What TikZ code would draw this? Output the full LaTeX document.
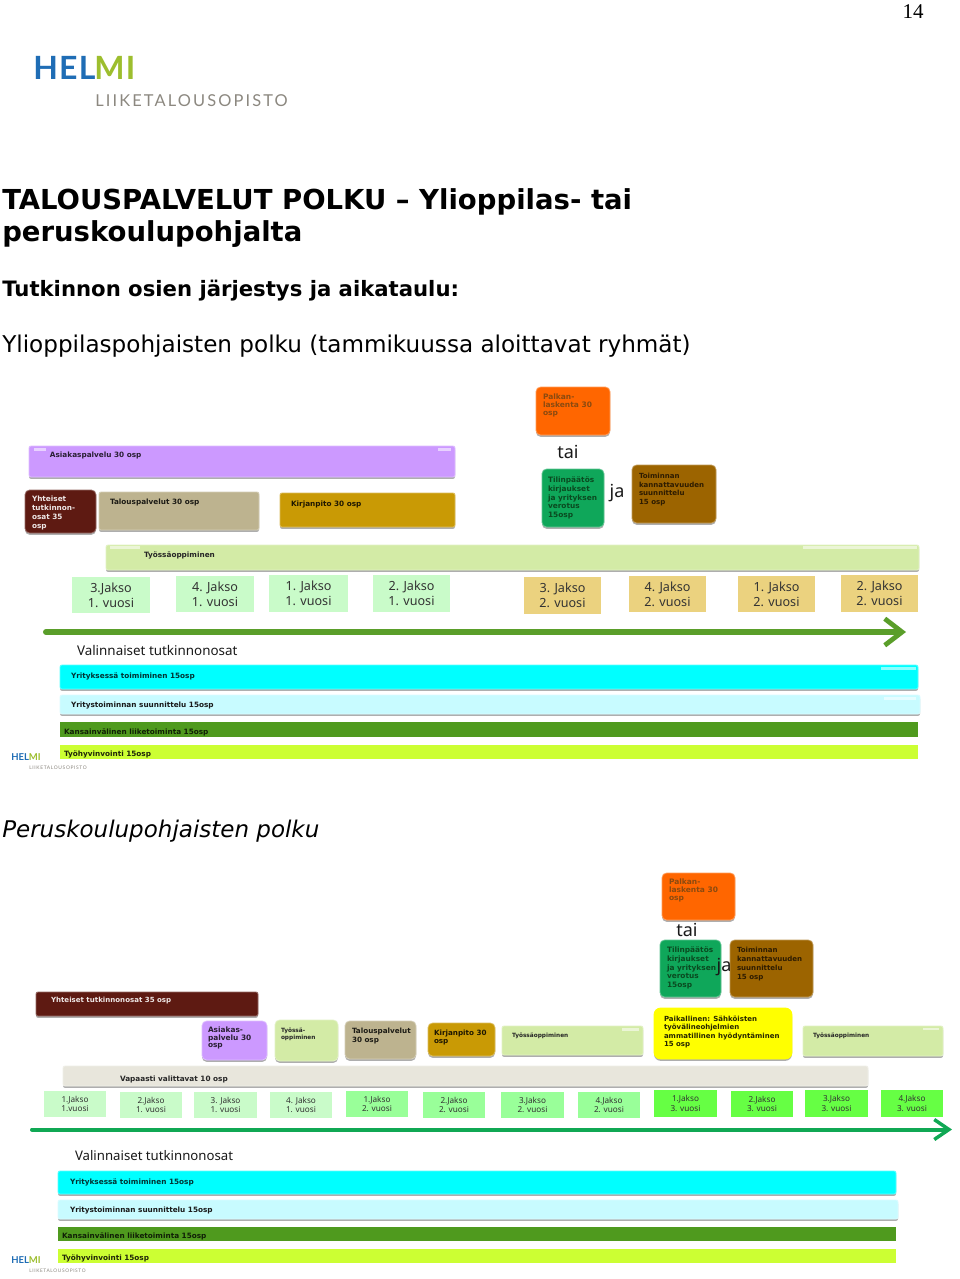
\documentclass[tikz,border=0pt]{standalone}
\usepackage{fontspec}
\setmainfont{DejaVu Sans}
\newfontfamily\seriffam{Liberation Serif}
\newfontfamily\tahomafam{Noto Sans}
\newfontfamily\logofam{Lato}
\usetikzlibrary{shadows,arrows.meta}
\newcommand\fpx[2]{\fontsize{\fpeval{#1*0.75}pt}{\fpeval{#2*0.75}pt}\selectfont}
\definecolor{cDred}{HTML}{5E1A12}
\definecolor{cLil}{HTML}{CC99FF}
\definecolor{cTan}{HTML}{BDB38F}
\definecolor{cGold}{HTML}{C99A05}
\definecolor{cTyo}{HTML}{D3EBA6}
\definecolor{cJa}{HTML}{C9FBC9}
\definecolor{cJb}{HTML}{EBD27F}
\definecolor{cJc}{HTML}{99FF99}
\definecolor{cJd}{HTML}{66FF44}
\definecolor{cArA}{HTML}{5A9E2A}
\definecolor{cArB}{HTML}{10A854}
\definecolor{cCy}{HTML}{00FFFF}
\definecolor{cLc}{HTML}{C8FBFF}
\definecolor{cKv}{HTML}{4F9A1E}
\definecolor{cTh}{HTML}{CCFF33}
\definecolor{cOr}{HTML}{FF6600}
\definecolor{cGr}{HTML}{0FA75A}
\definecolor{cBr}{HTML}{9C6400}
\definecolor{cVa}{HTML}{E8E6DC}
\definecolor{cYel}{RGB}{255,255,0}
\definecolor{cBlue}{HTML}{1F6DB5}
\definecolor{cLime}{HTML}{9DBE2E}
\definecolor{cGrey}{HTML}{8C8880}
\definecolor{cOrT}{HTML}{8A4A10}
\definecolor{cGrT}{HTML}{0A4A20}
\definecolor{cBrT}{HTML}{2E1C00}
\tikzset{
  x=0.75pt,y=-0.75pt,
  shadowed/.style={drop shadow={shadow xshift=0pt,shadow yshift=-1.4pt,opacity=.45,fill=black!70}},
  roundbox/.style={rectangle,rounded corners=3.5pt,inner sep=0pt,outer sep=0pt,shadowed,line width=.6pt},
  barbox/.style={rectangle,rounded corners=1.5pt,inner sep=0pt,outer sep=0pt,shadowed,line width=.6pt},
  flatbox/.style={rectangle,inner sep=0pt,outer sep=0pt},
  lbl/.style={anchor=west,inner sep=0pt,outer sep=0pt,align=left},
  jaksotxt/.style={inner sep=0pt,outer sep=0pt,align=center,text=black!80},
  wordtxt/.style={inner sep=0pt,outer sep=0pt,text=black!90,font=\tahomafam},
  gloss/.style={white,opacity=.55},
  pathA/.style={line width=4.5pt,cArA,line cap=round,-{Straight Barb[length=13pt,width=20pt,line width=3.6pt]}},
  pathB/.style={line width=3pt,cArB,line cap=round,-{Straight Barb[length=11pt,width=15pt,line width=2.6pt]}},
}
% box: style, name, x0,y0,x1,y1, colour
\newcommand\bx[7]{\node[#1,fill=#7,draw=#7!65!white,minimum width={(#5-#3)*0.75pt},minimum height={(#6-#4)*0.75pt}] (#2) at ({(#3+#5)/2},{(#4+#6)/2}) {};}
\newcommand\fb[6]{\node[flatbox,fill=#6,minimum width={(#4-#2)*0.75pt},minimum height={(#5-#3)*0.75pt}] (#1) at ({(#2+#4)/2},{(#3+#5)/2}) {};}
% jakso: name x0 y0 x1 y1 colour size text
\newcommand\jk[8]{\fb{#1}{#2}{#3}{#4}{#5}{#6}\node[jaksotxt,font={\tahomafam\fpx{#7}{\fpeval{#7*1.2}}}] (#1t) at (#1) {#8};}
% label: name x y size leading colour text
\newcommand\tx[7]{\node[lbl,text=#6,font={\bfseries\fpx{#4}{#5}}] (#1) at (#2,#3) {#7};}
\newcommand\gl[3]{\fill[gloss] (#1,#3) rectangle (#2,{#3+2.5});}
\begin{document}
\begin{tikzpicture}
\useasboundingbox (0,0) rectangle (960,1279);
\fill[white] (0,0) rectangle (960,1279);
% page number
\node[inner sep=0pt,font=\seriffam] (pg) at (913,11.5) {\fpx{21}{24}14};
% top logo
\node[anchor=west,inner sep=0pt,text=cBlue,font=\logofam\bfseries] (lgA) at (33,68) {\fpx{32}{32}\addfontfeature{LetterSpace=4}HEL};
\node[anchor=west,inner sep=0pt,text=cLime,font=\logofam\bfseries] (lgB) at (94,68) {\fpx{32}{32}\addfontfeature{LetterSpace=4}MI};
\node[anchor=west,inner sep=0pt,text=cGrey,font=\logofam] (lgC) at (95,100.5) {\fpx{16.4}{18}\addfontfeature{LetterSpace=13}LIIKETALOUSOPISTO};
% headings
\node[anchor=west,inner sep=0pt,font=\bfseries] (h1) at (2,201.5) {\fpx{27.5}{30}TALOUSPALVELUT POLKU – Ylioppilas- tai};
\node[anchor=west,inner sep=0pt,font=\bfseries] (h2) at (2,234.5) {\fpx{27.5}{30}peruskoulupohjalta};
\node[anchor=west,inner sep=0pt,font=\bfseries] (h3) at (2,291) {\fpx{21.2}{24}Tutkinnon osien järjestys ja aikataulu:};
\node[anchor=west,inner sep=0pt] (h4) at (2,346) {\fpx{23.1}{28}Ylioppilaspohjaisten polku (tammikuussa aloittavat ryhmät)};
\node[anchor=west,inner sep=0pt,font=\itshape] (h5) at (2,831) {\fpx{23}{28}Peruskoulupohjaisten polku};

% ---------- first diagram ----------
\bx{roundbox}{a1}{536}{387}{610}{435}{cOr}
\tx{a1t}{543}{405}{7.5}{8}{cOrT}{Palkan-\\laskenta 30\\osp}
\node[wordtxt] (atai) at (568,452) {\fpx{18}{20}tai};
\bx{roundbox}{a2}{542}{469}{604}{527}{cGr}
\tx{a2t}{548}{498}{7.4}{8.7}{cGrT}{Tilinpäätös\\kirjaukset\\ja yrityksen\\verotus\\15osp}
\node[wordtxt] (aja) at (617,493) {\fpx{18}{20}ja};
\bx{roundbox}{a3}{632}{465}{716}{523}{cBr}
\tx{a3t}{639}{489.5}{7.05}{8.7}{cBrT}{Toiminnan\\kannattavuuden\\suunnittelu\\15 osp}
\bx{barbox}{a4}{29}{446}{455}{477}{cLil}
\tx{a4t}{50}{455.5}{7.3}{9}{black!80!cLil}{Asiakaspalvelu 30 osp}
\gl{34}{46}{448}\gl{438}{451}{448}
\bx{roundbox}{a5}{25}{490}{96}{533}{cDred}
\tx{a5t}{32}{513}{7.3}{8.9}{white!90!cDred}{Yhteiset\\tutkinnon-\\osat 35\\osp}
\bx{barbox}{a6}{99}{492}{259}{530}{cTan}
\tx{a6t}{110}{502.5}{7.3}{9}{black!85!cTan}{Talouspalvelut 30 osp}
\bx{barbox}{a7}{280}{493}{455}{527}{cGold}
\tx{a7t}{291}{504.5}{7.3}{9}{black!85!cGold}{Kirjanpito 30 osp}
\bx{barbox}{a8}{106}{545}{919}{570}{cTyo}
\tx{a8t}{144}{555.5}{7.3}{9}{black!85}{Työssäoppiminen}
\gl{110}{140}{546}\gl{803}{917}{546}
\jk{a9}{72}{577}{150}{613}{cJa}{12.6}{3.Jakso\\1. vuosi}
\jk{a10}{176}{576}{254}{612}{cJa}{12.6}{4. Jakso\\1. vuosi}
\jk{a11}{269}{575}{348}{612}{cJa}{12.6}{1. Jakso\\1. vuosi}
\jk{a12}{373}{575}{450}{612}{cJa}{12.6}{2. Jakso\\1. vuosi}
\jk{a13}{524}{577}{601}{614}{cJb}{12.6}{3. Jakso\\2. vuosi}
\jk{a14}{629}{576}{706}{612}{cJb}{12.6}{4. Jakso\\2. vuosi}
\jk{a15}{738}{576}{815}{612}{cJb}{12.6}{1. Jakso\\2. vuosi}
\jk{a16}{841}{575}{918}{612}{cJb}{12.6}{2. Jakso\\2. vuosi}
\coordinate (as) at (46,632);
\coordinate (ae) at (906,632);
\draw[pathA] (as) -- (ae);
\node[wordtxt,anchor=west] (av) at (77,650) {\fpx{13.4}{15}Valinnaiset tutkinnonosat};
\bx{barbox}{a17}{60}{665}{918}{689}{cCy}
\tx{a17t}{71}{676}{7.3}{9}{black!80!cCy}{Yrityksessä toimiminen 15osp}
\gl{881}{916}{667}
\bx{barbox}{a18}{60}{695}{920}{714}{cLc}
\tx{a18t}{71}{705.5}{7.3}{9}{black!90}{Yritystoiminnan suunnittelu  15osp}
\gl{884}{916}{697}
\fb{a19}{60}{722}{918}{737}{cKv}
\tx{a19t}{64}{732}{7.3}{9}{black!80!cKv}{Kansainvälinen liiketoiminta  15osp}
\fb{a20}{60}{745}{918}{759}{cTh}
\tx{a20t}{64}{754.5}{7.3}{9}{black!85!cTh}{Työhyvinvointi 15osp}
\node[anchor=west,inner sep=0pt,text=cBlue,font=\logofam\bfseries] (alg) at (11,757.5) {\fpx{9.5}{10}HEL\textcolor{cLime}{MI}};
\node[anchor=west,inner sep=0pt,text=cGrey,font=\logofam] (alh) at (29,767.5) {\fpx{4.9}{5}\addfontfeature{LetterSpace=13}LIIKETALOUSOPISTO};

% ---------- second diagram ----------
\bx{roundbox}{b1}{662}{873}{735}{920}{cOr}
\tx{b1t}{669}{890}{7.5}{8}{cOrT}{Palkan-\\laskenta 30\\osp}
\node[wordtxt] (btai) at (687,930) {\fpx{18}{20}tai};
\bx{roundbox}{b2}{660}{940}{721}{997}{cGr}
\tx{b2t}{667}{968}{7.4}{8.7}{cGrT}{Tilinpäätös\\kirjaukset\\ja yrityksen\\verotus\\15osp}
\bx{roundbox}{b3}{730}{940}{813}{997}{cBr}
\tx{b3t}{737}{964}{7.05}{8.7}{cBrT}{Toiminnan\\kannattavuuden\\suunnittelu\\15 osp}
\node[wordtxt] (bja) at (724,967) {\fpx{18}{20}ja};
\bx{barbox}{b4}{36}{992}{258}{1016}{cDred}
\tx{b4t}{51}{1000.5}{7.05}{9}{white!90!cDred}{Yhteiset tutkinnonosat  35 osp}
\bx{roundbox}{b5}{202}{1021}{267}{1060}{cLil}
\tx{b5t}{208}{1038}{7.4}{7.7}{black!80!cLil}{Asiakas-\\palvelu 30\\osp}
\bx{roundbox}{b6}{275}{1020}{338}{1061}{cTyo}
\tx{b6t}{281}{1034}{5.8}{7.2}{black!85}{Työssä-\\oppiminen}
\bx{roundbox}{b7}{345}{1021}{416}{1059}{cTan}
\tx{b7t}{352}{1036}{7.2}{8.8}{black!85!cTan}{Talouspalvelut\\30 osp}
\bx{roundbox}{b8}{428}{1023}{495}{1056}{cGold}
\tx{b8t}{434}{1037.5}{7.2}{8.8}{black!85!cGold}{Kirjanpito 30\\osp}
\bx{barbox}{b9}{502}{1026}{643}{1055}{cTyo}
\tx{b9t}{512}{1036}{5.8}{7}{black!85}{Työssäoppiminen}
\gl{622}{639}{1028}
\node[roundbox,rounded corners=5pt,fill=cYel,draw=cYel,minimum width={138*0.75pt},minimum height={51*0.75pt}] (b10) at (723,1033.5) {};
\tx{b10t}{664}{1032}{7}{8.5}{black!85!cYel}{Paikallinen: Sähköisten\\työvälineohjelmien\\ammatillinen hyödyntäminen\\15 osp}
\bx{barbox}{b11}{803}{1026}{943}{1056}{cTyo}
\tx{b11t}{813}{1035.5}{5.8}{7}{black!85}{Työssäoppiminen}
\gl{923}{939}{1027.5}
\bx{barbox}{b12}{63}{1066}{868}{1086}{cVa}
\tx{b12t}{120}{1079.5}{7.3}{9}{black!85}{Vapaasti valittavat 10 osp}
\jk{b13}{44}{1091}{106}{1117}{cJa}{8.2}{1.Jakso\\1.vuosi}
\jk{b14}{120}{1092}{182}{1118}{cJa}{8.2}{2.Jakso\\1. vuosi}
\jk{b15}{194}{1092}{257}{1118}{cJa}{8.2}{3. Jakso\\1. vuosi}
\jk{b16}{270}{1092}{332}{1118}{cJa}{8.2}{4. Jakso\\1. vuosi}
\jk{b17}{346}{1091}{408}{1117}{cJc}{8.2}{1.Jakso\\2. vuosi}
\jk{b18}{423}{1092}{485}{1118}{cJc}{8.2}{2.Jakso\\2. vuosi}
\jk{b19}{501}{1092}{564}{1118}{cJc}{8.2}{3.Jakso\\2. vuosi}
\jk{b20}{578}{1092}{640}{1118}{cJc}{8.2}{4.Jakso\\2. vuosi}
\jk{b21}{654}{1090}{717}{1117}{cJd}{8.2}{1.Jakso\\3. vuosi}
\jk{b22}{731}{1091}{793}{1117}{cJd}{8.2}{2.Jakso\\3. vuosi}
\jk{b23}{805}{1090}{868}{1117}{cJd}{8.2}{3.Jakso\\3. vuosi}
\jk{b24}{881}{1090}{943}{1117}{cJd}{8.2}{4.Jakso\\3. vuosi}
\coordinate (bs) at (32,1129.5);
\coordinate (be) at (952,1129.5);
\draw[pathB] (bs) -- (be);
\node[wordtxt,anchor=west] (bv) at (75,1156) {\fpx{13.2}{15}Valinnaiset tutkinnonosat};
\bx{barbox}{b25}{58}{1171}{896}{1194}{cCy}
\tx{b25t}{70}{1182}{7.3}{9}{black!80!cCy}{Yrityksessä toimiminen 15osp}
\bx{barbox}{b26}{58}{1200}{898}{1219}{cLc}
\tx{b26t}{70}{1210.5}{7.3}{9}{black!90}{Yritystoiminnan suunnittelu  15osp}
\fb{b27}{58}{1227}{896}{1241}{cKv}
\tx{b27t}{62}{1236.5}{7.3}{9}{black!80!cKv}{Kansainvälinen liiketoiminta  15osp}
\fb{b28}{58}{1249}{896}{1263}{cTh}
\tx{b28t}{62}{1258.5}{7.3}{9}{black!85!cTh}{Työhyvinvointi 15osp}
\node[anchor=west,inner sep=0pt,text=cBlue,font=\logofam\bfseries] (blg) at (11,1260.5) {\fpx{9.5}{10}HEL\textcolor{cLime}{MI}};
\node[anchor=west,inner sep=0pt,text=cGrey,font=\logofam] (blh) at (29,1270.5) {\fpx{4.8}{5}\addfontfeature{LetterSpace=13}LIIKETALOUSOPISTO};
\end{tikzpicture}
\end{document}
